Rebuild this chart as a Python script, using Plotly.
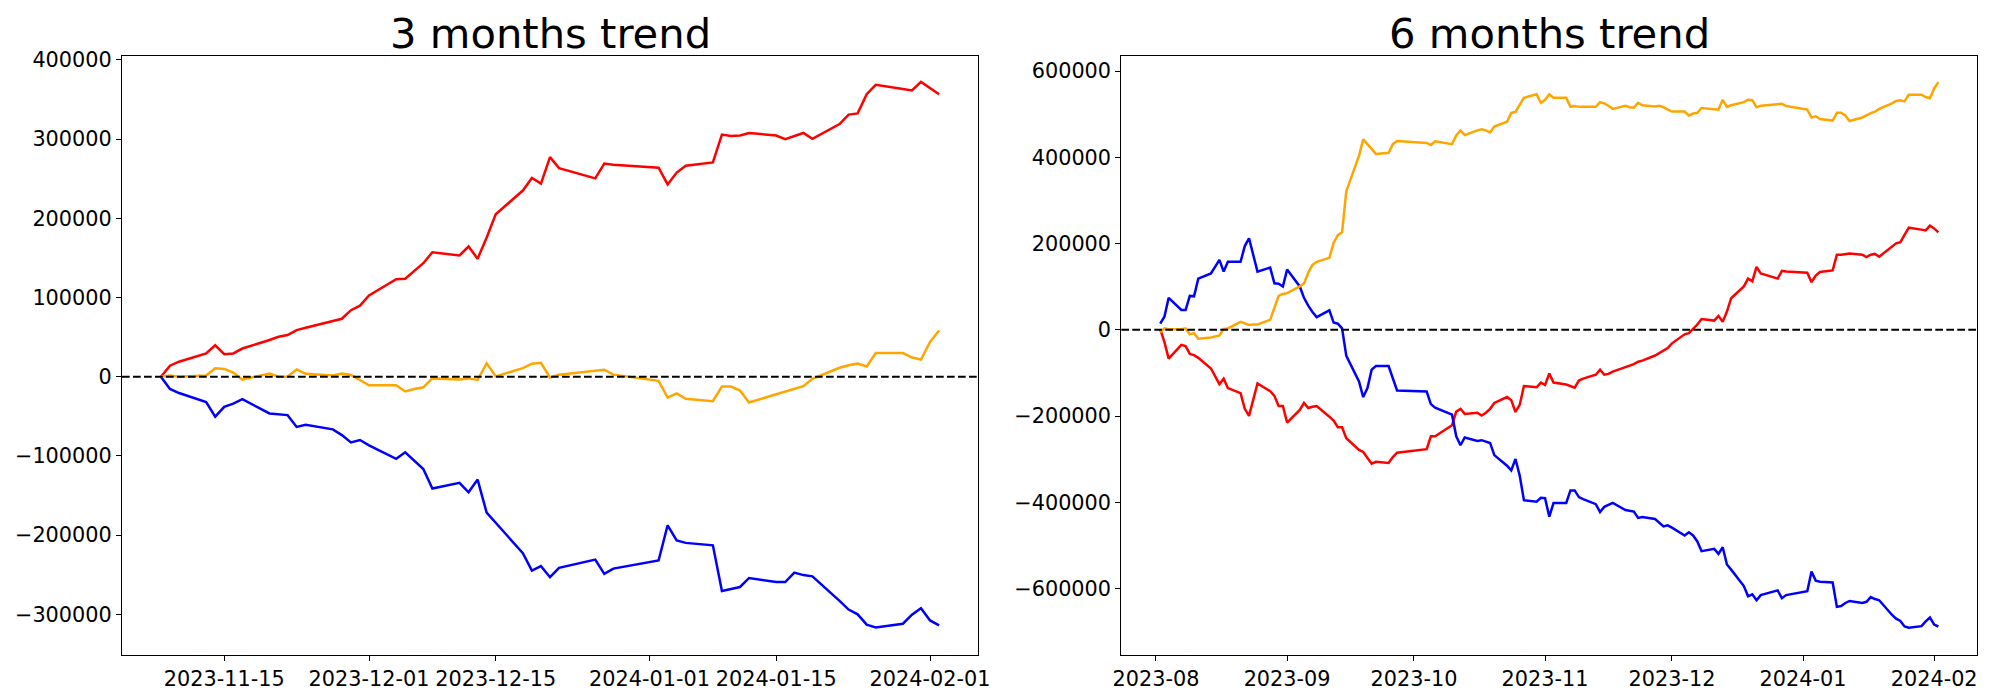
import pandas as pd
import plotly.graph_objects as go

# ---------------- data ----------------
KRX_HOLIDAYS = ["2023-08-15", "2023-09-28", "2023-09-29", "2023-10-02", "2023-10-03",
                "2023-10-09", "2023-12-25", "2023-12-29", "2024-01-01"]

dates_3m = [d.strftime("%Y-%m-%d") for d in pd.bdate_range("2023-11-08", "2024-02-02")
            if d.strftime("%Y-%m-%d") not in KRX_HOLIDAYS]
dates_6m = [d.strftime("%Y-%m-%d") for d in pd.bdate_range("2023-08-02", "2024-02-02")
            if d.strftime("%Y-%m-%d") not in KRX_HOLIDAYS]

red_3m = [0, 13900, 19000, 29400, 39700, 28400, 29400, 35600, 46400, 50500, 52600, 58800, 61900,
          70600, 73200, 84000, 89700,
          102600, 123200, 123700, 133500, 143300, 157200, 153100, 164400, 149000, 175800, 205200,
          235100, 251000, 243800, 277300, 263400, 250500, 269100, 267600,
          263900, 242800, 257800, 266500, 270600, 305700, 304100, 304600, 307800, 304600, 300000,
          303600, 307800, 300500, 319000, 331000, 332500, 356700, 368600, 363400, 361400, 372200,
          365000, 356700]
blue_3m = [0, -15500, -20600, -32000, -50500, -38100, -34000, -28400, -46400, -47900, -48500, -63400,
           -60800, -66500, -73700, -83000, -79900,
           -86600, -103600, -95400, -105700, -116500, -141200, -134000, -145900, -129900, -171700,
           -184600, -222700, -244900, -239200, -253100, -241300, -230900, -249000, -242300,
           -232000, -187600, -206700, -209800, -212900, -270600, -268100, -265500, -254100, -259300,
           -259300, -247400, -250500, -252100, -283000, -294000, -300000, -313000, -316500, -311900,
           -300500, -292300,
           -307700, -313900]
orange_3m = [0, 1500, 0, 1500, 10800, 9800, 5200, -3600, 4100, 0, 0, 9300, 3600, 1500, 4100, 2100, -4100,
             -10800, -10800, -18600, -15500, -13400, -2100, -3600, -2100, -4100, 17000, 500, 10800,
             16500, 17500, -1000, 2600, 7700, 8800, 2600,
             -5200, -26300, -21100, -27800, -30900, -12400, -12400, -17500, -32500, -22200, -18600,
             -15000, -11900, -2600, 11300, 14400, 16500, 12900, 29900, 29900, 24200, 21700,
             43800, 58300]

red_6m = [1400, -28600, -66800, -35000, -37700, -55900, -58600, -65000, -89600, -126000, -113200,
          -135000, -146800, -183200, -199600, -160500, -124100, -142300, -153200, -176800, -176800,
          -215000, -185900, -169500, -181300, -178600, -176800, -201400, -210400, -225900, -225900,
          -251300, -278700, -283200, -296800, -310500, -305900, -308700, -295000, -285000,
          -276800, -246800, -246800, -221400, -189600, -183200, -195000, -192300, -198700, -192300,
          -183200, -169500, -155900, -163200, -190500, -174100, -130500, -133200, -122300,
          -128000, -101300, -122300, -126800, -130500, -134100, -117700, -113200, -104100, -92300,
          -104100, -102300, -96800, -85900, -83200, -79600, -74100, -71400, -59600, -53200, -46800,
          -42300,
          -31400, -10500, -7700, 1400, 12300, 25000, 21400, 32300, 18600, 42300, 73200, 100500,
          118700, 112300, 145900, 130500, 118700, 136800, 135000,
          132300, 110500, 126000, 134100, 137700, 174100, 174100, 175900, 176800, 174100, 168700,
          174100, 175900, 169500, 194100, 200500, 203200, 221400, 236800, 232300, 230500, 241400,
          235000, 225900]
blue_6m = [14100, 30500, 74100, 45900, 45900, 78600, 77700, 118700, 130500, 162300, 135000, 157700,
           157700, 194100, 212300, 174100, 135000, 144100, 107700, 106800, 100500,
           139600, 100500, 74100, 55900, 41400, 29500, 45000, 16800, 14100, 3200, -60500, -119600,
           -155900, -135000, -92300, -84100, -84100, -115000, -140500,
           -143200, -172300, -180500, -196800, -246800, -267700, -249600, -257700, -255900, -258700,
           -262300, -290500, -315000, -325900, -299600, -337800, -395100, -398700, -389600,
           -390500, -433200, -401400, -401400, -372300, -372300, -387800, -392400, -404200, -422400,
           -410500, -406000, -401400, -417800, -420500, -421400, -436000, -434200, -438700, -446900,
           -456000, -453300,
           -458700, -476900, -469600, -476900, -490600, -513300, -507800, -519600, -504200, -544200,
           -556000, -594200, -617800, -613300, -626900, -615100, -604200, -622400, -615100,
           -606000, -560600, -581500, -584200, -586000, -642400, -640600, -633300, -628700, -633300,
           -630600, -619700, -624300, -627000, -660600, -669700, -675200, -687900, -690600, -687000,
           -676100, -667000,
           -683400, -687900]
orange_6m = [-5900, 3200, 1400, 1400, 3200, -10500, -7700, -20500, -17700, -13200, 2300, 3200, 18600,
             15000, 11400, 12300, 12300, 23200, 53200, 78600, 83200,
             85000, 100500, 107700, 132300, 150500, 157700, 166800, 201400, 219400, 225900, 321400,
             403300, 441400, 430500, 418700, 407800, 410500, 430500, 437800,
             433200, 428700, 436900, 430500, 450500, 462300, 451400, 462300, 465100, 462300, 457800,
             471400, 482300, 502800, 505100, 521400, 537800, 546000, 526000,
             533300, 546000, 537800, 537800, 516900, 518700, 516900, 516900, 516900, 527800, 525100,
             519600, 512300, 519600, 516000, 515100, 526000, 520500, 517800, 519600, 516000, 510500,
             506000, 506000, 496900, 501400, 503200, 514200, 512300, 510500, 533300, 516900, 520500,
             527800, 533300, 532300, 516000, 519600, 523200, 524100, 518700,
             510500, 492300, 495100, 488700, 485100, 503200, 503200, 496900, 484200, 492300, 497800,
             502300, 505900, 512300, 525100, 530500, 532300, 529600, 545100, 545100, 539600, 536900,
             559600, 574200]

titles = ["3 months trend", "6 months trend"]
xticks_3m = ["2023-11-15", "2023-12-01", "2023-12-15", "2024-01-01", "2024-01-15", "2024-02-01"]
xticks_6m = ["2023-08-01", "2023-09-01", "2023-10-01", "2023-11-01", "2023-12-01", "2024-01-01", "2024-02-01"]
xticklabels_6m = ["2023-08", "2023-09", "2023-10", "2023-11", "2023-12", "2024-01", "2024-02"]
yticks_3m = [-300000, -200000, -100000, 0, 100000, 200000, 300000, 400000]
yticks_6m = [-600000, -400000, -200000, 0, 200000, 400000, 600000]


def fmt(v):
    return ("\u2212" + str(abs(v))) if v < 0 else str(v)


# ---------------- figure ----------------
FONT = "DejaVu Sans"
W, H = 2000, 700
fig = go.Figure()

series = [("red", red_3m, red_6m), ("blue", blue_3m, blue_6m), ("orange", orange_3m, orange_6m)]
for color, v3, v6 in series:
    fig.add_trace(go.Scatter(x=dates_3m, y=v3, mode="lines", line=dict(color=color, width=2.5),
                             xaxis="x", yaxis="y", showlegend=False, hoverinfo="skip"))
    fig.add_trace(go.Scatter(x=dates_6m, y=v6, mode="lines", line=dict(color=color, width=2.5),
                             xaxis="x2", yaxis="y2", showlegend=False, hoverinfo="skip"))

ydom = [1 - 655.1 / H, 1 - 55.5 / H]
axis_common = dict(showline=True, mirror=True, linecolor="black", linewidth=1.1,
                   showgrid=False, zeroline=False, ticks="outside", ticklen=5, tickwidth=1.1,
                   tickcolor="black", automargin=False,
                   tickfont=dict(family=FONT, size=20.8, color="black"))

fig.update_layout(
    width=W, height=H,
    margin=dict(l=0, r=0, t=0, b=0, pad=0),
    paper_bgcolor="white", plot_bgcolor="white",
    font=dict(family=FONT, color="black"),
    xaxis=dict(domain=[122 / W, 978 / W], type="date",
               range=["2023-11-03 16:48", "2024-02-06 07:12"],
               tickmode="array", tickvals=xticks_3m, ticktext=xticks_3m, anchor="y", **axis_common),
    yaxis=dict(domain=ydom, range=[-351500, 405600], tickmode="array",
               tickvals=yticks_3m, ticktext=[fmt(v) for v in yticks_3m], anchor="x", **axis_common),
    xaxis2=dict(domain=[1121.3 / W, 1977.3 / W], type="date",
                range=["2023-07-23 19:12", "2024-02-11 04:48"],
                tickmode="array", tickvals=xticks_6m, ticktext=xticklabels_6m, anchor="y2", **axis_common),
    yaxis2=dict(domain=ydom, range=[-754200, 636000], tickmode="array",
                tickvals=yticks_6m, ticktext=[fmt(v) for v in yticks_6m], anchor="x2", **axis_common),
)

# dashed zero lines
for xr, yr in (("x", "y"), ("x2", "y2")):
    fig.add_shape(type="line", xref=xr + " domain", yref=yr, x0=0, x1=1, y0=0, y1=0,
                  line=dict(color="black", width=2.1, dash="7.7px,3.3px"), layer="above")

# titles
for i, t in enumerate(titles):
    xc = (550 if i == 0 else 1549.3) / W
    fig.add_annotation(text=t, xref="paper", yref="paper", x=xc, y=1 - 33.5 / H,
                       xanchor="center", yanchor="middle", showarrow=False,
                       font=dict(family=FONT, size=41.7, color="black"))

fig.write_html("out.html", config={"displayModeBar": False},
               post_script="document.body.style.margin='0';document.body.style.overflow='hidden';")
